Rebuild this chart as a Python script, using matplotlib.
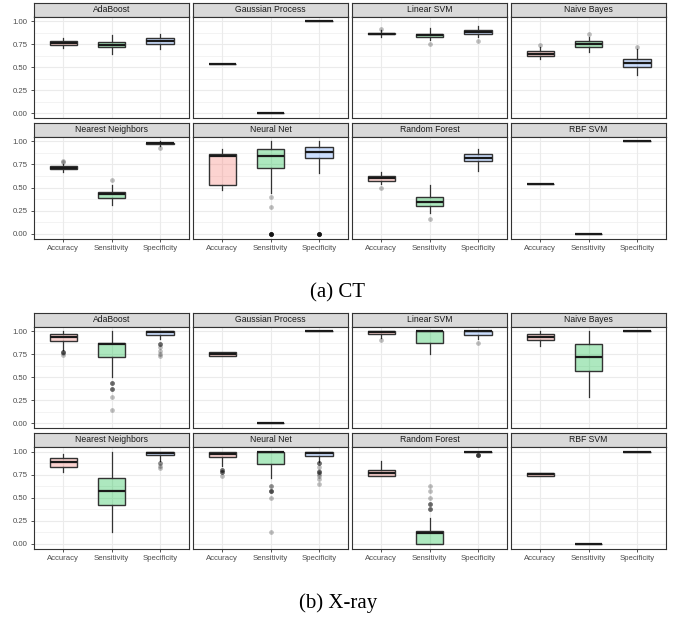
import matplotlib
matplotlib.use('Agg')
import matplotlib.pyplot as plt

plt.rcParams['font.family'] = ['Liberation Sans', 'DejaVu Sans']

CLASSIFIERS = ['AdaBoost', 'Gaussian Process', 'Linear SVM', 'Naive Bayes',
               'Nearest Neighbors', 'Neural Net', 'Random Forest', 'RBF SVM']
METRICS = ['Accuracy', 'Sensitivity', 'Specificity']
COLORS = ['#F8766D', '#00BA38', '#619CFF']

# box summaries per metric: (low whisker, Q1, median, Q3, high whisker)
# and the outliers for each metric (repeated values = overlapping points)

# ---- CT ----
CT_ADABOOST = [(0.71, 0.745, 0.765, 0.78, 0.82), (0.64, 0.715, 0.745, 0.77, 0.85), (0.70, 0.75, 0.785, 0.815, 0.86)]
CT_ADABOOST_OUT = [[], [], []]
CT_GAUSS = [(0.533,) * 5, (0.0,) * 5, (1.0,) * 5]
CT_GAUSS_OUT = [[], [], []]
CT_LINSVM = [(0.83, 0.855, 0.865, 0.875, 0.90), (0.79, 0.825, 0.845, 0.865, 0.93), (0.825, 0.865, 0.885, 0.90, 0.945)]
CT_LINSVM_OUT = [[0.915], [0.75], [0.785]]
CT_BAYES = [(0.59, 0.62, 0.645, 0.675, 0.72), (0.66, 0.72, 0.75, 0.78, 0.83), (0.42, 0.50, 0.545, 0.59, 0.70)]
CT_BAYES_OUT = [[0.74], [0.865], [0.715]]
CT_KNN = [(0.67, 0.70, 0.715, 0.733, 0.75), (0.315, 0.39, 0.425, 0.45, 0.525), (0.95, 0.965, 0.975, 0.985, 1.0)]
CT_KNN_OUT = [[0.775, 0.79], [0.58], [0.93]]
CT_NNET = [(0.475, 0.53, 0.835, 0.865, 0.915), (0.445, 0.705, 0.845, 0.91, 1.0), (0.655, 0.815, 0.88, 0.935, 1.0)]
CT_NNET_OUT = [[], [0.40, 0.285] + [0.0] * 8, [0.0] * 8]
CT_RF = [(0.535, 0.575, 0.60, 0.625, 0.67), (0.23, 0.305, 0.34, 0.40, 0.53), (0.68, 0.785, 0.82, 0.86, 0.92)]
CT_RF_OUT = [[0.49], [0.16], []]
CT_RBF = [(0.533,) * 5, (0.0,) * 5, (1.0,) * 5]
CT_RBF_OUT = [[], [], []]

# ---- X-ray ----
XR_ADABOOST = [(0.795, 0.895, 0.94, 0.97, 1.0), (0.505, 0.715, 0.865, 0.875, 1.0), (0.91, 0.955, 0.99, 1.0, 1.0)]
XR_ADABOOST_OUT = [[0.777] * 3 + [0.765, 0.745],
                   [0.435] * 3 + [0.375] * 3 + [0.29, 0.15],
                   [0.865] * 3 + [0.83, 0.785, 0.75, 0.735]]
XR_GAUSS = [(0.735, 0.735, 0.752, 0.77, 0.77), (0.0,) * 5, (1.0,) * 5]
XR_GAUSS_OUT = [[], [], []]
XR_LINSVM = [(0.93, 0.968, 0.985, 1.0, 1.0), (0.755, 0.875, 1.0, 1.0, 1.0), (0.915, 0.96, 1.0, 1.0, 1.0)]
XR_LINSVM_OUT = [[0.90], [], [0.875]]
XR_BAYES = [(0.84, 0.905, 0.935, 0.965, 1.0), (0.29, 0.57, 0.715, 0.86, 1.0), (1.0,) * 5]
XR_BAYES_OUT = [[], [], []]
XR_KNN = [(0.775, 0.838, 0.89, 0.935, 0.97), (0.125, 0.425, 0.575, 0.715, 1.0), (0.90, 0.96, 0.99, 1.0, 1.0)]
XR_KNN_OUT = [[], [], [0.875, 0.875, 0.845, 0.825]]
XR_NNET = [(0.84, 0.94, 0.97, 1.0, 1.0), (0.715, 0.87, 1.0, 1.0, 1.0), (0.89, 0.957, 0.99, 1.0, 1.0)]
XR_NNET_OUT = [[0.80] * 3 + [0.775] * 3 + [0.735],
               [0.625] * 2 + [0.575] * 4 + [0.50, 0.125],
               [0.875] * 3 + [0.835, 0.79] + [0.775] * 3 + [0.76, 0.735, 0.70, 0.645]]
XR_RF = [(0.736, 0.736, 0.77, 0.80, 0.90), (0.0, 0.0, 0.115, 0.145, 0.285), (1.0,) * 5]
XR_RF_OUT = [[], [0.625, 0.575, 0.50] + [0.43] * 3 + [0.375] * 3, [0.96] * 5]
XR_RBF = [(0.735, 0.735, 0.755, 0.772, 0.772), (0.0,) * 5, (1.0,) * 5]
XR_RBF_OUT = [[], [], []]

CT = ([CT_ADABOOST, CT_GAUSS, CT_LINSVM, CT_BAYES, CT_KNN, CT_NNET, CT_RF, CT_RBF],
      [CT_ADABOOST_OUT, CT_GAUSS_OUT, CT_LINSVM_OUT, CT_BAYES_OUT, CT_KNN_OUT, CT_NNET_OUT, CT_RF_OUT, CT_RBF_OUT])
XR = ([XR_ADABOOST, XR_GAUSS, XR_LINSVM, XR_BAYES, XR_KNN, XR_NNET, XR_RF, XR_RBF],
      [XR_ADABOOST_OUT, XR_GAUSS_OUT, XR_LINSVM_OUT, XR_BAYES_OUT, XR_KNN_OUT, XR_NNET_OUT, XR_RF_OUT, XR_RBF_OUT])

W, H = 676, 620
fig = plt.figure(figsize=(W / 100, H / 100), dpi=100)


def rect(x0, y0, x1, y1):
    # pixel box (top-left origin) -> figure fraction
    return [x0 / W, 1 - y1 / H, (x1 - x0) / W, (y1 - y0) / H]


COLS = [(34, 189), (193, 348), (352, 507), (511, 666)]


def draw_block(data, rows, caption, cap_y):
    stats_all, out_all = data
    for i, name in enumerate(CLASSIFIERS):
        r, c = divmod(i, 4)
        x0, x1 = COLS[c]
        s0, s1, p1 = rows[r]

        # strip
        st = fig.add_axes(rect(x0, s0, x1, s1))
        st.set_facecolor('#D9D9D9')
        st.set_xticks([])
        st.set_yticks([])
        for sp in st.spines.values():
            sp.set_color('#333333')
            sp.set_linewidth(0.8)
        st.text(0.5, 0.5, name, ha='center', va='center', fontsize=6.2, color='#1A1A1A')

        ax = fig.add_axes(rect(x0, s1, x1, p1))
        stats = []
        for m, (lo, q1, med, q3, hi) in enumerate(stats_all[i]):
            stats.append(dict(whislo=lo, q1=q1, med=med, q3=q3, whishi=hi,
                              fliers=out_all[i][m], label=METRICS[m]))
        bp = ax.bxp(stats, positions=[1, 2, 3], widths=0.56, patch_artist=True,
                    showcaps=False,
                    boxprops=dict(edgecolor='#333333', linewidth=1.0),
                    whiskerprops=dict(color='#333333', linewidth=0.9),
                    medianprops=dict(color='#1A1A1A', linewidth=1.6),
                    flierprops=dict(marker='o', markersize=3.4, markerfacecolor='black',
                                    markeredgecolor='none', alpha=0.25))
        for patch, col in zip(bp['boxes'], COLORS):
            patch.set_facecolor(matplotlib.colors.to_rgba(col, 0.32))

        ax.set_xlim(0.4, 3.6)
        ax.set_ylim(-0.05, 1.05)
        ax.set_yticks([0, 0.25, 0.5, 0.75, 1.0])
        ax.set_yticklabels(['0.00', '0.25', '0.50', '0.75', '1.00'])
        ax.set_yticks([0.125, 0.375, 0.625, 0.875], minor=True)
        ax.set_xticks([1, 2, 3])
        ax.set_xticklabels(METRICS)
        ax.grid(which='major', color='#EBEBEB', linewidth=0.8)
        ax.grid(which='minor', axis='y', color='#EBEBEB', linewidth=0.4)
        ax.set_axisbelow(True)
        ax.tick_params(which='minor', length=0)
        ax.tick_params(which='major', labelsize=5.6, labelcolor='#4D4D4D',
                       color='#333333', length=2.5, width=0.6, pad=2)
        if c != 0:
            ax.tick_params(axis='y', length=0, labelleft=False)
        if r != 1:
            ax.tick_params(axis='x', length=0, labelbottom=False)
        for sp in ax.spines.values():
            sp.set_color('#333333')
            sp.set_linewidth(0.8)

    fig.text(0.5, 1 - cap_y / H, caption, ha='center', va='center',
             family='Liberation Serif', fontsize=15)


draw_block(CT, [(3, 16.5, 118), (122.5, 136.5, 238.5)], '(a) CT', 293)
draw_block(XR, [(313, 326.5, 428), (433, 447, 548.5)], '(b) X-ray', 603)

fig.savefig('out.png', dpi=100)
